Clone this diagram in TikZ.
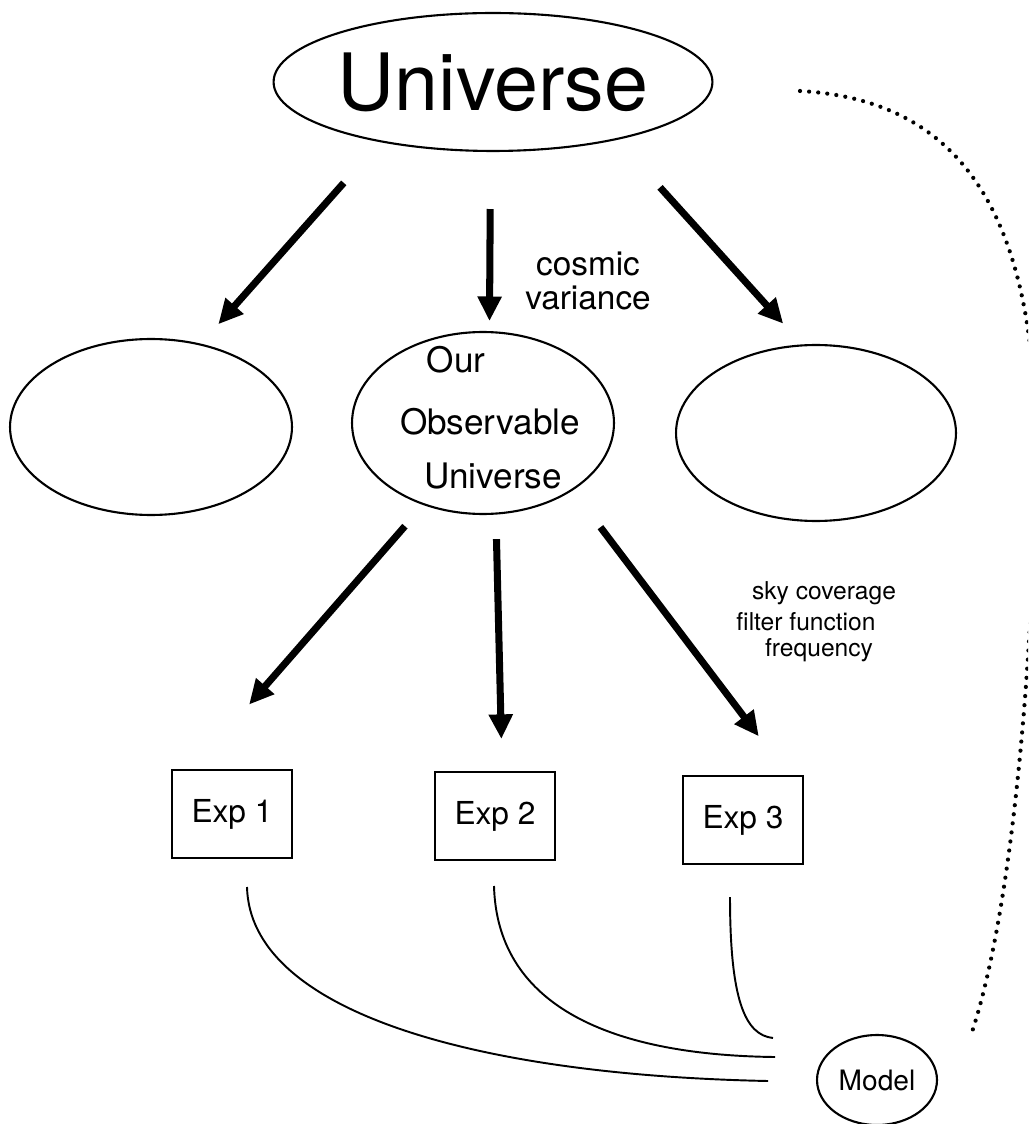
\documentclass[tikz,border=0pt]{standalone}
\usepackage{fontspec}
\setmainfont{TeX Gyre Heros}
\usetikzlibrary{shapes.geometric,arrows.meta}

\begin{document}
\begin{tikzpicture}[x=0.02cm, y=-0.02cm,
	blob/.style={draw, ellipse, line width=1.2pt, inner sep=0pt},
	expbox/.style={draw, rectangle, line width=1.2pt, minimum width=2.4cm, minimum height=1.76cm, font=\fontsize{18}{18}\selectfont},
	fat/.style={->, >={Triangle[length=14pt, width=13pt]}, line width=4pt},
	feed/.style={line width=1.1pt},
	dots/.style={line width=2.4pt, line cap=round, dash pattern=on 0pt off 5.2pt}]
				\useasboundingbox (0, 0) rectangle (1028, 1124);
				\clip (0, 0) rectangle (1028, 1124);
				% ellipses
				\node[blob, minimum width=7.52cm, minimum height=2.76cm, font=\fontsize{45}{45}\selectfont] (U)at(493, 82) {Universe};
				\node[blob, minimum width=5.64cm, minimum height=3.52cm] (L)at(151, 427) {};
				\node[blob, minimum width=5.24cm, minimum height=3.64cm] (O)at(483, 423) {};
				\node[blob, minimum width=5.6cm, minimum height=3.52cm] (R)at(816, 433) {};
				\node[font=\fontsize{20}{20}\selectfont] (Our)at(456, 360) {Our};
				\node[font=\fontsize{20}{20}\selectfont] (Obs)at(490, 422) {Observable};
				\node[font=\fontsize{20}{20}\selectfont] (Uni)at(493, 476) {Universe};
				\node[align=center, font=\fontsize{19}{19}\selectfont] (cv)at(588, 281) {cosmic\\variance};
				% experiments
				\node[expbox] (E1)at(232, 814) {Exp 1};
				\node[expbox] (E2)at(495, 816) {Exp 2};
				\node[expbox] (E3)at(743, 820) {Exp 3};
				\node[font=\fontsize{14}{14}\selectfont] (sky)at(824, 593) {sky coverage};
				\node[font=\fontsize{14}{14}\selectfont] (filt)at(806, 622) {filter function};
				\node[font=\fontsize{14}{14}\selectfont] (freq)at(819, 650) {frequency};
				\node[blob, minimum width=2.4cm, minimum height=1.8cm, font=\fontsize{16}{16}\selectfont] (M)at(877, 1080) {Model};
				% arrows
				\draw[fat, shorten <=1.09cm, shorten >=0.52cm] (U.208) -- (L.59);
				\draw[fat, shorten <=1.14cm, shorten >=0.2cm] (U.268) -- (O.86);
				\draw[fat, shorten <=1.28cm, shorten >=0.56cm] (U.335) -- (R.99);
				\draw[fat, shorten <=0.56cm, shorten >=1.71cm] (O.234) -- (E1.131);
				\draw[fat, shorten <=0.49cm, shorten >=0.64cm] (O.278) -- (E2.81);
				\draw[fat, shorten <=0.92cm, shorten >=0.97cm] (O.323) -- (E3.45);
				% lines to the model
				\coordinate (e1) at (247, 887);
				\coordinate (e2) at (494, 886);
				\coordinate (e3) at (730, 897);
				\coordinate (m1) at (768, 1081);
				\coordinate (m2) at (775, 1057);
				\coordinate (m3) at (773, 1038);
				\draw[feed] (e1) .. controls (250, 1010) and (470, 1075) .. (m1);
				\draw[feed] (e2) .. controls (497, 1000) and (600, 1055) .. (m2);
				\draw[feed] (e3) .. controls (730, 1000) and (745, 1035) .. (m3);
				\coordinate (d0) at (800, 91);
				\coordinate (d1) at (972, 1032);
				\draw[dots] (d0) .. controls (965, 100) and (1036, 220) .. (1036, 450) .. controls (1036, 560) and (1022, 880) .. (d1);
			\end{tikzpicture}
\end{document}
